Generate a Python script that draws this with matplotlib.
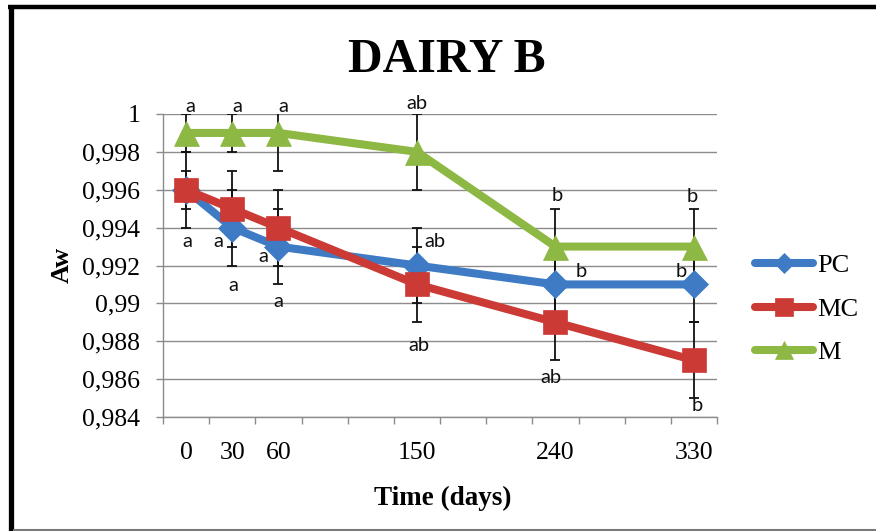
import numpy as np
import matplotlib
matplotlib.use("Agg")
import matplotlib.pyplot as plt
from matplotlib.ticker import FixedLocator, FuncFormatter
from matplotlib.lines import Line2D

# ---- data -------------------------------------------------------------
days = [0, 30, 60, 150, 240, 330]
series_names = ["PC", "MC", "M"]

pc_values = [0.996, 0.994, 0.993, 0.992, 0.991, 0.991]
mc_values = [0.996, 0.995, 0.994, 0.991, 0.989, 0.987]
m_values = [0.999, 0.999, 0.999, 0.998, 0.993, 0.993]

pc_err = [0.001, 0.002, 0.002, 0.002, 0.002, 0.002]
mc_err = [0.002, 0.002, 0.002, 0.002, 0.002, 0.002]
m_err = [0.001, 0.001, 0.002, 0.002, 0.002, 0.002]

y_ticks = [0.984, 0.986, 0.988, 0.99, 0.992, 0.994, 0.996, 0.998, 1.0]

# significance letters: (text, day, Aw)
letters = [
    ("a", 3, 1.00042), ("a", 33, 1.00042), ("a", 63, 1.00042), ("ab", 150, 1.00053),
    ("b", 241, 0.99567), ("b", 329, 0.99562),
    ("a", 1, 0.99329), ("a", 21, 0.99329), ("a", 31, 0.99092),
    ("a", 50, 0.99245), ("a", 60, 0.99012),
    ("ab", 162, 0.99329), ("ab", 151, 0.98775),
    ("b", 257, 0.99166), ("ab", 237, 0.98611),
    ("b", 322, 0.99166), ("b", 332, 0.98463),
]

# ---- styling ----------------------------------------------------------
W, H = 876, 531
SERIF = ["Liberation Serif", "DejaVu Serif"]
colors = {"PC": "#3E7BC4", "MC": "#CC3A36", "M": "#8DB843"}
markers = {"PC": ("D", 14), "MC": ("s", 17), "M": ("^", 18)}
grid_gray = "#8C8C8C"

fig = plt.figure(figsize=(W / 100, H / 100), dpi=100)
fig.patch.set_facecolor("white")

ax = fig.add_axes([163 / W, 1 - 417 / H, (717 - 163) / W, (417 - 114) / H])
ax.set_xlim(-15, 345)
ax.set_ylim(0.984, 1.0)

# error bars underneath all lines
for vals, errs in [(pc_values, pc_err), (mc_values, mc_err), (m_values, m_err)]:
    ax.errorbar(days, vals, yerr=errs, fmt="none", ecolor="#111111",
                elinewidth=1.3, capsize=3.6, capthick=1.3, zorder=2)

handles = []
for z, (name, vals) in enumerate(zip(series_names, [pc_values, mc_values, m_values])):
    mk, ms = markers[name]
    ln, = ax.plot(days, vals, color=colors[name], lw=5.8, marker=mk, ms=ms,
                  markerfacecolor=colors[name], markeredgecolor=colors[name],
                  markeredgewidth=0.5, solid_capstyle="round", solid_joinstyle="round",
                  label=name, zorder=3 + z)
    handles.append(ln)

for txt, xv, yv in letters:
    ax.text(xv, yv, txt, ha="center", va="center", fontsize=14.5,
            family=["Lato", "DejaVu Sans"], color="#111111", clip_on=False, zorder=10)

# axes / grid
for side in ["top", "right"]:
    ax.spines[side].set_visible(False)
for side in ["left", "bottom"]:
    ax.spines[side].set_color(grid_gray)
    ax.spines[side].set_linewidth(1.0)

ax.yaxis.set_major_locator(FixedLocator(y_ticks))
ax.yaxis.set_major_formatter(FuncFormatter(
    lambda v, p: f"{v:.3f}".rstrip("0").rstrip(".").replace(".", ",")))
ax.grid(axis="y", color=grid_gray, lw=1.0, zorder=0)
ax.set_axisbelow(True)

ax.xaxis.set_major_locator(FixedLocator(days))
ax.xaxis.set_minor_locator(FixedLocator(np.arange(-15, 346, 30)))
ax.tick_params(axis="x", which="major", length=0, pad=18, labelsize=18.5)
ax.tick_params(axis="x", which="minor", length=5, width=1.0, color=grid_gray, direction="out")
ax.tick_params(axis="y", which="major", length=5, width=1.0, color=grid_gray,
               direction="out", pad=11.5, labelsize=18.5)
for lab in ax.get_xticklabels() + ax.get_yticklabels():
    lab.set_family(SERIF)

# titles and axis names
fig.text(447 / W, 1 - 72 / H, "DAIRY B", ha="center", va="baseline",
         fontsize=34.5, fontweight="bold", family=SERIF)
fig.text(443 / W, 1 - 505 / H, "Time (days)", ha="center", va="baseline",
         fontsize=19.5, fontweight="bold", family=SERIF)
fig.text(62 / W, 1 - 265 / H, "Aw", ha="center", va="center", rotation=90,
         fontsize=19, fontweight="bold", family=SERIF)

# legend
leg = fig.legend(handles=handles, loc="center left",
                 bbox_to_anchor=(755 / W, 1 - 309 / H), frameon=False,
                 prop={"family": SERIF, "size": 19}, handlelength=2.2,
                 handletextpad=0.15, labelspacing=0.75, borderpad=0,
                 borderaxespad=0, markerscale=0.75)

# outer frame
fig.add_artist(Line2D([10.5 / W, 10.5 / W], [0, 1 - 5 / H], transform=fig.transFigure,
                      color="black", lw=3.8, solid_capstyle="butt"))
fig.add_artist(Line2D([8 / W, 1], [1 - 7 / H, 1 - 7 / H], transform=fig.transFigure,
                      color="black", lw=3.2, solid_capstyle="butt"))
fig.add_artist(Line2D([13 / W, 1], [1 - 530 / H, 1 - 530 / H], transform=fig.transFigure,
                      color="#7a7a7a", lw=1.5, solid_capstyle="butt"))

fig.savefig("out.png", dpi=100, facecolor="white")
